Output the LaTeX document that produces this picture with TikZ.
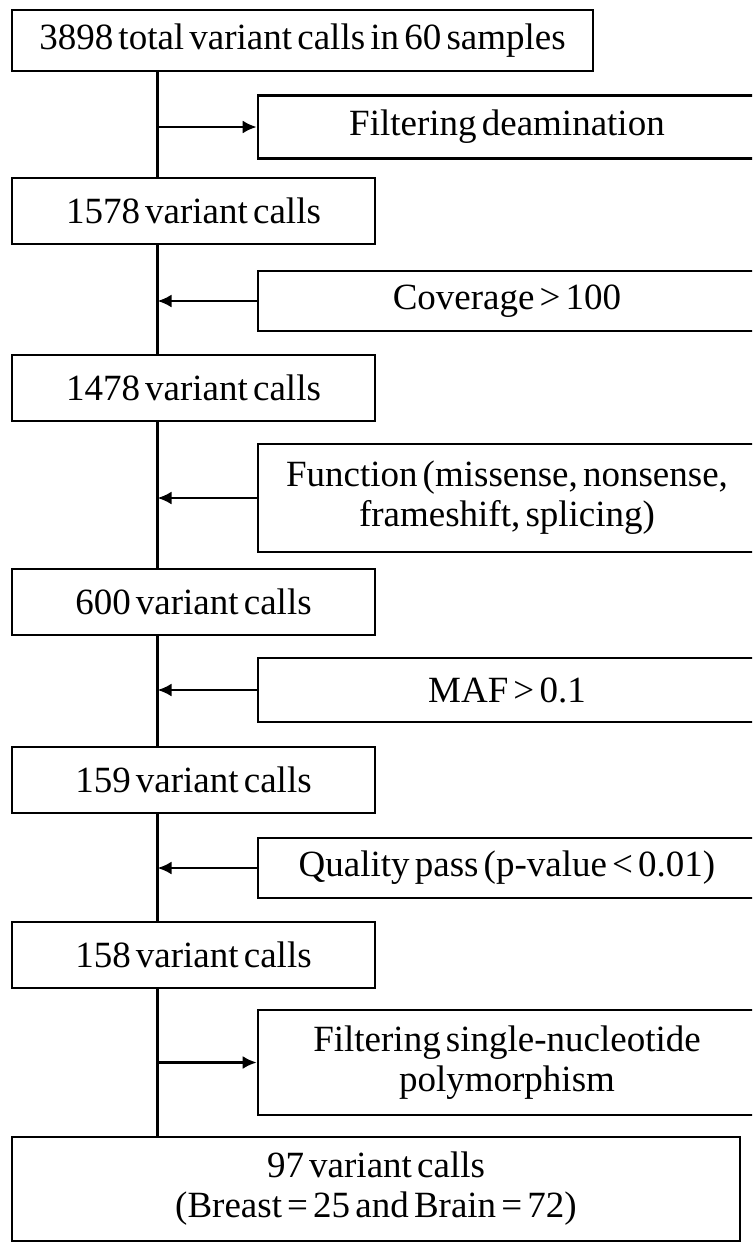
\documentclass[tikz,border=0pt]{standalone}
\usepackage{fontspec}
\setmainfont{Liberation Serif}
\newfontfamily\stageserif{Liberation Serif}
\usetikzlibrary{arrows.meta}

\newcommand\stagefont{\stageserif\fontsize{18.5}{20}\selectfont\spaceskip=0.14em plus 0.05em\relax}

\tikzset{
  stage/.style={draw, line width=1.3pt, inner sep=0pt, minimum height=33pt,
    minimum width=181.5pt, align=center, font=\stagefont},
  filterbox/.style={stage, minimum width=249pt},
  spine/.style={line width=1.3pt},
  arr/.style={line width=1.3pt, -{Latex[length=7pt,width=6.5pt]}}
}

\begin{document}
\begin{tikzpicture}[x=0.5pt, y=-0.5pt]
    \useasboundingbox (0,0) rectangle (752,1243);
    \clip (0,0) rectangle (752,1243);

    % --- 縦の幹線 ---
    \coordinate (spine) at (157.5,0);

    % --- 左側のボックス ---
    \node[stage, minimum width=290.5pt, minimum height=30.5pt] (b1) at (302.5,40.5)
        {3898 total variant calls in 60 samples};
    \foreach \name/\y/\txt in {b2/211/1578, b3/388/1478, b4/602/600, b5/780/159, b6/955/158} {
        \node[stage] (\name) at (193.5,\y) {\txt{} variant calls};
    }
    \node[stage, minimum width=364pt, minimum height=52pt] (b7) at (376,1189)
        {97 variant calls\\(Breast = 25 and Brain = 72)};

    % --- 右側のフィルタ ---
    \node[filterbox, minimum height=31.5pt] (f1) at (507,127) {Filtering deamination};
    \node[filterbox, minimum height=30pt]   (f2) at (507,301) {Coverage > 100};
    \node[filterbox, minimum height=54pt]   (f3) at (507,498)
        {Function (missense, nonsense,\\frameshift, splicing)};
    \node[filterbox, minimum height=32pt]   (f4) at (507,690) {MAF > 0.1};
    \node[filterbox, minimum height=30pt]   (f5) at (507,868) {Quality pass (p-value < 0.01)};
    \node[filterbox, minimum height=52.5pt] (f6) at (507,1062.5)
        {Filtering single-nucleotide\\polymorphism};

    % --- 幹線 ---
    \foreach \a/\b in {b1/b2, b2/b3, b3/b4, b4/b5, b5/b6, b6/b7} {
        \draw[spine] (\a.south -| spine) -- (\b.north -| spine);
    }

    % --- 矢印 ---
    \draw[arr] (f1.west -| spine) -- (f1.west);
    \foreach \f in {f2, f3, f4, f5} {
        \draw[arr] (\f.west) -- (\f.west -| spine);
    }
    \draw[arr] (f6.west -| spine) -- (f6.west);

\end{tikzpicture}
\end{document}
